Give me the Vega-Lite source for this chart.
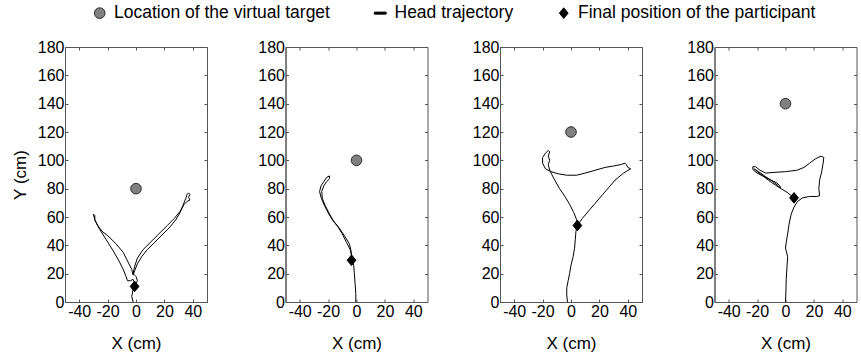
{
  "$schema": "https://vega.github.io/schema/vega-lite/v6.json",
  "background": "white",
  "padding": {"left": 10, "top": 4, "right": 4, "bottom": 5},
  "config": {
    "view": {"stroke": "#555555", "strokeWidth": 1},
    "axis": {"labelFont": "Liberation Sans", "labelFontSize": 16, "labelColor": "#000000", "titleFont": "Liberation Sans", "titleFontSize": 17, "titleFontWeight": "normal", "titleColor": "#000000", "domainColor": "#555555", "tickColor": "#555555", "grid": false, "tickSize": -3, "labelPadding": 4},
    "axisX": {"titlePadding": 16},
    "axisY": {"titlePadding": 8},
    "legend": {"labelFont": "Liberation Sans", "labelFontSize": 17.5, "labelColor": "#000000", "labelOffset": 5.5, "labelLimit": 500, "columnPadding": 41.5, "symbolOpacity": 1, "symbolSize": 140, "symbolStrokeWidth": 1}
  },
  "datasets": {
    "traj": [
      {"panel":1,"i":1,"x":-2,"y":0},{"panel":1,"i":2,"x":-3,"y":4},{"panel":1,"i":3,"x":-2,"y":9},{"panel":1,"i":4,"x":-1,"y":13},{"panel":1,"i":5,"x":-2,"y":16},{"panel":1,"i":6,"x":-4,"y":15},{"panel":1,"i":7,"x":-6,"y":15},{"panel":1,"i":8,"x":-7,"y":18},{"panel":1,"i":9,"x":-9,"y":23},{"panel":1,"i":10,"x":-12,"y":29},{"panel":1,"i":11,"x":-16,"y":36},{"panel":1,"i":12,"x":-21,"y":44},{"panel":1,"i":13,"x":-26,"y":52},{"panel":1,"i":14,"x":-29,"y":58},{"panel":1,"i":15,"x":-30,"y":62},{"panel":1,"i":16,"x":-29,"y":61},{"panel":1,"i":17,"x":-29,"y":58},{"panel":1,"i":18,"x":-27,"y":54},{"panel":1,"i":19,"x":-24,"y":50},{"panel":1,"i":20,"x":-19,"y":46},{"panel":1,"i":21,"x":-14,"y":41},{"panel":1,"i":22,"x":-9,"y":35},{"panel":1,"i":23,"x":-6,"y":29},{"panel":1,"i":24,"x":-3,"y":23},{"panel":1,"i":25,"x":-2,"y":19},{"panel":1,"i":26,"x":-1,"y":22},{"panel":1,"i":27,"x":1,"y":27},{"panel":1,"i":28,"x":4,"y":32},{"panel":1,"i":29,"x":8,"y":37},{"panel":1,"i":30,"x":13,"y":42},{"panel":1,"i":31,"x":19,"y":48},{"panel":1,"i":32,"x":24,"y":53},{"panel":1,"i":33,"x":28,"y":58},{"panel":1,"i":34,"x":31,"y":63},{"panel":1,"i":35,"x":33,"y":68},{"panel":1,"i":36,"x":35,"y":73},{"panel":1,"i":37,"x":36,"y":76},{"panel":1,"i":38,"x":37,"y":77},{"panel":1,"i":39,"x":38,"y":76},{"panel":1,"i":40,"x":37,"y":74},{"panel":1,"i":41,"x":38,"y":72},{"panel":1,"i":42,"x":36,"y":71},{"panel":1,"i":43,"x":34,"y":69},{"panel":1,"i":44,"x":31,"y":64},{"panel":1,"i":45,"x":27,"y":59},{"panel":1,"i":46,"x":22,"y":54},{"panel":1,"i":47,"x":16,"y":48},{"panel":1,"i":48,"x":10,"y":42},{"panel":1,"i":49,"x":5,"y":37},{"panel":1,"i":50,"x":1,"y":31},{"panel":1,"i":51,"x":-1,"y":25},{"panel":1,"i":52,"x":-2,"y":20},{"panel":1,"i":53,"x":0,"y":18},{"panel":1,"i":54,"x":1,"y":15},{"panel":1,"i":55,"x":0,"y":13},{"panel":1,"i":56,"x":-1,"y":11},
      {"panel":2,"i":1,"x":-0.5,"y":0},{"panel":2,"i":2,"x":-0.5,"y":6},{"panel":2,"i":3,"x":-1,"y":13},{"panel":2,"i":4,"x":-1.5,"y":20},{"panel":2,"i":5,"x":-2,"y":26},{"panel":2,"i":6,"x":-3,"y":30},{"panel":2,"i":7,"x":-3.5,"y":33},{"panel":2,"i":8,"x":-4.5,"y":37},{"panel":2,"i":9,"x":-7,"y":42},{"panel":2,"i":10,"x":-10,"y":48},{"panel":2,"i":11,"x":-13,"y":53},{"panel":2,"i":12,"x":-17,"y":58},{"panel":2,"i":13,"x":-20,"y":63},{"panel":2,"i":14,"x":-23,"y":69},{"panel":2,"i":15,"x":-25,"y":74},{"panel":2,"i":16,"x":-26,"y":78},{"panel":2,"i":17,"x":-25,"y":82},{"panel":2,"i":18,"x":-23,"y":85},{"panel":2,"i":19,"x":-21,"y":88},{"panel":2,"i":20,"x":-19,"y":89},{"panel":2,"i":21,"x":-19,"y":87},{"panel":2,"i":22,"x":-21,"y":85},{"panel":2,"i":23,"x":-23,"y":82},{"panel":2,"i":24,"x":-24.5,"y":78},{"panel":2,"i":25,"x":-24,"y":73},{"panel":2,"i":26,"x":-22,"y":68},{"panel":2,"i":27,"x":-19,"y":62},{"panel":2,"i":28,"x":-16,"y":57},{"panel":2,"i":29,"x":-12,"y":52},{"panel":2,"i":30,"x":-8,"y":46},{"panel":2,"i":31,"x":-5,"y":41},{"panel":2,"i":32,"x":-4,"y":37},{"panel":2,"i":33,"x":-3.5,"y":33},{"panel":2,"i":34,"x":-3.5,"y":29.5},
      {"panel":3,"i":1,"x":-2.5,"y":0},{"panel":3,"i":2,"x":-3,"y":5},{"panel":3,"i":3,"x":-3,"y":10},{"panel":3,"i":4,"x":-2,"y":15},{"panel":3,"i":5,"x":-1,"y":20},{"panel":3,"i":6,"x":0,"y":26},{"panel":3,"i":7,"x":1.5,"y":32},{"panel":3,"i":8,"x":2.5,"y":38},{"panel":3,"i":9,"x":3,"y":44},{"panel":3,"i":10,"x":3.5,"y":50},{"panel":3,"i":11,"x":4.5,"y":54},{"panel":3,"i":12,"x":8,"y":59},{"panel":3,"i":13,"x":13,"y":65},{"panel":3,"i":14,"x":19,"y":72},{"panel":3,"i":15,"x":25,"y":79},{"panel":3,"i":16,"x":31,"y":86},{"panel":3,"i":17,"x":37,"y":91},{"panel":3,"i":18,"x":42,"y":94},{"panel":3,"i":19,"x":40,"y":95},{"panel":3,"i":20,"x":39,"y":97},{"panel":3,"i":21,"x":38,"y":98},{"panel":3,"i":22,"x":35,"y":97},{"panel":3,"i":23,"x":30,"y":96},{"panel":3,"i":24,"x":24,"y":95},{"panel":3,"i":25,"x":17,"y":93},{"panel":3,"i":26,"x":10,"y":91},{"panel":3,"i":27,"x":4,"y":89.5},{"panel":3,"i":28,"x":-3,"y":89.5},{"panel":3,"i":29,"x":-9,"y":90.5},{"panel":3,"i":30,"x":-14,"y":92},{"panel":3,"i":31,"x":-18,"y":94},{"panel":3,"i":32,"x":-20,"y":98},{"panel":3,"i":33,"x":-20,"y":102},{"panel":3,"i":34,"x":-18,"y":105},{"panel":3,"i":35,"x":-16,"y":107},{"panel":3,"i":36,"x":-15,"y":106},{"panel":3,"i":37,"x":-16,"y":103},{"panel":3,"i":38,"x":-15,"y":100},{"panel":3,"i":39,"x":-16,"y":97},{"panel":3,"i":40,"x":-15,"y":93},{"panel":3,"i":41,"x":-12,"y":87},{"panel":3,"i":42,"x":-8,"y":80},{"panel":3,"i":43,"x":-4,"y":74},{"panel":3,"i":44,"x":-1,"y":69},{"panel":3,"i":45,"x":2,"y":63},{"panel":3,"i":46,"x":4,"y":58},{"panel":3,"i":47,"x":4.5,"y":54},
      {"panel":4,"i":1,"x":0,"y":0},{"panel":4,"i":2,"x":0.3,"y":8},{"panel":4,"i":3,"x":0.5,"y":16},{"panel":4,"i":4,"x":1,"y":24},{"panel":4,"i":5,"x":1.5,"y":32},{"panel":4,"i":6,"x":0,"y":38},{"panel":4,"i":7,"x":0.5,"y":42},{"panel":4,"i":8,"x":1.5,"y":48},{"panel":4,"i":9,"x":2.5,"y":55},{"panel":4,"i":10,"x":4,"y":62},{"panel":4,"i":11,"x":6,"y":67},{"panel":4,"i":12,"x":8.5,"y":71},{"panel":4,"i":13,"x":12,"y":73.5},{"panel":4,"i":14,"x":17,"y":74.5},{"panel":4,"i":15,"x":22,"y":74.5},{"panel":4,"i":16,"x":24,"y":75},{"panel":4,"i":17,"x":23.5,"y":80},{"panel":4,"i":18,"x":24,"y":86},{"panel":4,"i":19,"x":25.5,"y":92},{"panel":4,"i":20,"x":26.5,"y":98},{"panel":4,"i":21,"x":27,"y":102},{"panel":4,"i":22,"x":25,"y":103},{"panel":4,"i":23,"x":21,"y":101},{"panel":4,"i":24,"x":17,"y":98},{"panel":4,"i":25,"x":13,"y":95},{"panel":4,"i":26,"x":8,"y":93},{"panel":4,"i":27,"x":0,"y":92},{"panel":4,"i":28,"x":-8,"y":91.5},{"panel":4,"i":29,"x":-14,"y":91},{"panel":4,"i":30,"x":-18,"y":93},{"panel":4,"i":31,"x":-21,"y":95.5},{"panel":4,"i":32,"x":-23,"y":95.5},{"panel":4,"i":33,"x":-23,"y":93.5},{"panel":4,"i":34,"x":-20,"y":91},{"panel":4,"i":35,"x":-15,"y":88.5},{"panel":4,"i":36,"x":-10,"y":86},{"panel":4,"i":37,"x":-6,"y":84},{"panel":4,"i":38,"x":-4,"y":82},{"panel":4,"i":39,"x":-3.5,"y":80.5},{"panel":4,"i":40,"x":-5,"y":82},{"panel":4,"i":41,"x":-9,"y":85},{"panel":4,"i":42,"x":-14,"y":88.5},{"panel":4,"i":43,"x":-19,"y":92},{"panel":4,"i":44,"x":-22,"y":94},{"panel":4,"i":45,"x":-21,"y":93},{"panel":4,"i":46,"x":-16,"y":89},{"panel":4,"i":47,"x":-10,"y":84.5},{"panel":4,"i":48,"x":-4,"y":80.5},{"panel":4,"i":49,"x":1,"y":77.5},{"panel":4,"i":50,"x":6,"y":73.5}
    ],
    "pts": [
      {"panel":1,"item":"Location of the virtual target","x":0,"y":80},
      {"panel":1,"item":"Final position of the participant","x":-1,"y":11},
      {"panel":2,"item":"Location of the virtual target","x":0,"y":100},
      {"panel":2,"item":"Final position of the participant","x":-3.5,"y":29.5},
      {"panel":3,"item":"Location of the virtual target","x":0,"y":120},
      {"panel":3,"item":"Final position of the participant","x":4.5,"y":54},
      {"panel":4,"item":"Location of the virtual target","x":0,"y":140},
      {"panel":4,"item":"Final position of the participant","x":6,"y":73.5}
    ]
  },
  "bounds": "flush",
  "spacing": 78.5,
  "hconcat": [
    {
      "width": 142, "height": 255,
      "resolve": {"axis": {"x": "independent", "y": "independent"}},
      "layer": [
        {"data": {"name": "traj"}, "transform": [{"filter": "datum.panel == 1"}],
         "mark": {"type": "line", "color": "#000000", "strokeWidth": 1},
         "encoding": {
           "x": {"field": "x", "type": "quantitative", "scale": {"domain": [-50, 50], "nice": false, "zero": false}, "axis": {"values": [-40, -20, 0, 20, 40], "title": "X (cm)", "labelExpr": "replace(datum.label, '\u2212', '-')"}},
           "y": {"field": "y", "type": "quantitative", "scale": {"domain": [0, 180], "nice": false}, "axis": {"values": [0, 20, 40, 60, 80, 100, 120, 140, 160, 180], "title": "Y (cm)"}},
           "order": {"field": "i", "type": "quantitative"}
         }},
        {"data": {"name": "pts"}, "transform": [{"filter": "datum.panel == 1"}],
         "mark": {"type": "point", "filled": true, "opacity": 1, "size": 140, "strokeWidth": 1},
         "encoding": {
           "x": {"field": "x", "type": "quantitative", "scale": {"domain": [-50, 50], "nice": false, "zero": false}, "axis": {"orient": "top", "values": [-40, -20, 0, 20, 40], "labels": false, "domain": false, "title": null}},
           "y": {"field": "y", "type": "quantitative", "scale": {"domain": [0, 180], "nice": false}, "axis": {"orient": "right", "values": [0, 20, 40, 60, 80, 100, 120, 140, 160, 180], "labels": false, "domain": false, "title": null}},
           "shape": {"field": "item", "type": "nominal", "scale": {"domain": ["Location of the virtual target", "Head trajectory", "Final position of the participant"], "range": ["M-0.9,0A0.9,0.9,0,1,0,0.9,0A0.9,0.9,0,1,0,-0.9,0Z", "M-1,-0.17L1,-0.17L1,0.17L-1,0.17Z", "M-0.74,0L0,-0.9L0.74,0L0,0.9Z"]}, "legend": {"title": null, "orient": "none", "legendX": 26, "legendY": -43, "direction": "horizontal"}},
           "fill": {"field": "item", "type": "nominal", "scale": {"domain": ["Location of the virtual target", "Head trajectory", "Final position of the participant"], "range": ["#808080", "#000000", "#000000"]}, "legend": {"title": null, "orient": "none", "legendX": 26, "legendY": -43, "direction": "horizontal"}},
           "stroke": {"field": "item", "type": "nominal", "scale": {"domain": ["Location of the virtual target", "Head trajectory", "Final position of the participant"], "range": ["#303030", "#000000", "#000000"]}, "legend": {"title": null, "orient": "none", "legendX": 26, "legendY": -43, "direction": "horizontal"}}
         }}
      ]
    },
    {
      "bounds": "flush",
      "spacing": 72.5,
      "hconcat": [
        {
          "width": 142, "height": 255,
          "resolve": {"axis": {"x": "independent", "y": "independent"}},
          "layer": [
            {"data": {"name": "traj"}, "transform": [{"filter": "datum.panel == 2"}],
             "mark": {"type": "line", "color": "#000000", "strokeWidth": 1},
             "encoding": {
               "x": {"field": "x", "type": "quantitative", "scale": {"domain": [-50, 50], "nice": false, "zero": false}, "axis": {"values": [-40, -20, 0, 20, 40], "title": "X (cm)", "labelExpr": "replace(datum.label, '\u2212', '-')"}},
               "y": {"field": "y", "type": "quantitative", "scale": {"domain": [0, 180], "nice": false}, "axis": {"values": [0, 20, 40, 60, 80, 100, 120, 140, 160, 180], "title": null}},
               "order": {"field": "i", "type": "quantitative"}
             }},
            {"data": {"name": "pts"}, "transform": [{"filter": "datum.panel == 2"}],
             "mark": {"type": "point", "filled": true, "opacity": 1, "size": 140, "strokeWidth": 1},
             "encoding": {
               "x": {"field": "x", "type": "quantitative", "scale": {"domain": [-50, 50], "nice": false, "zero": false}, "axis": {"orient": "top", "values": [-40, -20, 0, 20, 40], "labels": false, "domain": false, "title": null}},
               "y": {"field": "y", "type": "quantitative", "scale": {"domain": [0, 180], "nice": false}, "axis": {"orient": "right", "values": [0, 20, 40, 60, 80, 100, 120, 140, 160, 180], "labels": false, "domain": false, "title": null}},
               "shape": {"field": "item", "type": "nominal", "scale": {"domain": ["Location of the virtual target", "Head trajectory", "Final position of the participant"], "range": ["M-0.9,0A0.9,0.9,0,1,0,0.9,0A0.9,0.9,0,1,0,-0.9,0Z", "M-1,-0.17L1,-0.17L1,0.17L-1,0.17Z", "M-0.74,0L0,-0.9L0.74,0L0,0.9Z"]}, "legend": {"title": null, "orient": "none", "legendX": 26, "legendY": -43, "direction": "horizontal"}},
               "fill": {"field": "item", "type": "nominal", "scale": {"domain": ["Location of the virtual target", "Head trajectory", "Final position of the participant"], "range": ["#808080", "#000000", "#000000"]}, "legend": {"title": null, "orient": "none", "legendX": 26, "legendY": -43, "direction": "horizontal"}},
               "stroke": {"field": "item", "type": "nominal", "scale": {"domain": ["Location of the virtual target", "Head trajectory", "Final position of the participant"], "range": ["#303030", "#000000", "#000000"]}, "legend": {"title": null, "orient": "none", "legendX": 26, "legendY": -43, "direction": "horizontal"}}
             }}
          ]
        },
        {
          "width": 142, "height": 255,
          "resolve": {"axis": {"x": "independent", "y": "independent"}},
          "layer": [
            {"data": {"name": "traj"}, "transform": [{"filter": "datum.panel == 3"}],
             "mark": {"type": "line", "color": "#000000", "strokeWidth": 1},
             "encoding": {
               "x": {"field": "x", "type": "quantitative", "scale": {"domain": [-50, 50], "nice": false, "zero": false}, "axis": {"values": [-40, -20, 0, 20, 40], "title": "X (cm)", "labelExpr": "replace(datum.label, '\u2212', '-')"}},
               "y": {"field": "y", "type": "quantitative", "scale": {"domain": [0, 180], "nice": false}, "axis": {"values": [0, 20, 40, 60, 80, 100, 120, 140, 160, 180], "title": null}},
               "order": {"field": "i", "type": "quantitative"}
             }},
            {"data": {"name": "pts"}, "transform": [{"filter": "datum.panel == 3"}],
             "mark": {"type": "point", "filled": true, "opacity": 1, "size": 140, "strokeWidth": 1},
             "encoding": {
               "x": {"field": "x", "type": "quantitative", "scale": {"domain": [-50, 50], "nice": false, "zero": false}, "axis": {"orient": "top", "values": [-40, -20, 0, 20, 40], "labels": false, "domain": false, "title": null}},
               "y": {"field": "y", "type": "quantitative", "scale": {"domain": [0, 180], "nice": false}, "axis": {"orient": "right", "values": [0, 20, 40, 60, 80, 100, 120, 140, 160, 180], "labels": false, "domain": false, "title": null}},
               "shape": {"field": "item", "type": "nominal", "scale": {"domain": ["Location of the virtual target", "Head trajectory", "Final position of the participant"], "range": ["M-0.9,0A0.9,0.9,0,1,0,0.9,0A0.9,0.9,0,1,0,-0.9,0Z", "M-1,-0.17L1,-0.17L1,0.17L-1,0.17Z", "M-0.74,0L0,-0.9L0.74,0L0,0.9Z"]}, "legend": {"title": null, "orient": "none", "legendX": 26, "legendY": -43, "direction": "horizontal"}},
               "fill": {"field": "item", "type": "nominal", "scale": {"domain": ["Location of the virtual target", "Head trajectory", "Final position of the participant"], "range": ["#808080", "#000000", "#000000"]}, "legend": {"title": null, "orient": "none", "legendX": 26, "legendY": -43, "direction": "horizontal"}},
               "stroke": {"field": "item", "type": "nominal", "scale": {"domain": ["Location of the virtual target", "Head trajectory", "Final position of the participant"], "range": ["#303030", "#000000", "#000000"]}, "legend": {"title": null, "orient": "none", "legendX": 26, "legendY": -43, "direction": "horizontal"}}
             }}
          ]
        },
        {
          "width": 142, "height": 255,
          "resolve": {"axis": {"x": "independent", "y": "independent"}},
          "layer": [
            {"data": {"name": "traj"}, "transform": [{"filter": "datum.panel == 4"}],
             "mark": {"type": "line", "color": "#000000", "strokeWidth": 1},
             "encoding": {
               "x": {"field": "x", "type": "quantitative", "scale": {"domain": [-50, 50], "nice": false, "zero": false}, "axis": {"values": [-40, -20, 0, 20, 40], "title": "X (cm)", "labelExpr": "replace(datum.label, '\u2212', '-')"}},
               "y": {"field": "y", "type": "quantitative", "scale": {"domain": [0, 180], "nice": false}, "axis": {"values": [0, 20, 40, 60, 80, 100, 120, 140, 160, 180], "title": null}},
               "order": {"field": "i", "type": "quantitative"}
             }},
            {"data": {"name": "pts"}, "transform": [{"filter": "datum.panel == 4"}],
             "mark": {"type": "point", "filled": true, "opacity": 1, "size": 140, "strokeWidth": 1},
             "encoding": {
               "x": {"field": "x", "type": "quantitative", "scale": {"domain": [-50, 50], "nice": false, "zero": false}, "axis": {"orient": "top", "values": [-40, -20, 0, 20, 40], "labels": false, "domain": false, "title": null}},
               "y": {"field": "y", "type": "quantitative", "scale": {"domain": [0, 180], "nice": false}, "axis": {"orient": "right", "values": [0, 20, 40, 60, 80, 100, 120, 140, 160, 180], "labels": false, "domain": false, "title": null}},
               "shape": {"field": "item", "type": "nominal", "scale": {"domain": ["Location of the virtual target", "Head trajectory", "Final position of the participant"], "range": ["M-0.9,0A0.9,0.9,0,1,0,0.9,0A0.9,0.9,0,1,0,-0.9,0Z", "M-1,-0.17L1,-0.17L1,0.17L-1,0.17Z", "M-0.74,0L0,-0.9L0.74,0L0,0.9Z"]}, "legend": {"title": null, "orient": "none", "legendX": 26, "legendY": -43, "direction": "horizontal"}},
               "fill": {"field": "item", "type": "nominal", "scale": {"domain": ["Location of the virtual target", "Head trajectory", "Final position of the participant"], "range": ["#808080", "#000000", "#000000"]}, "legend": {"title": null, "orient": "none", "legendX": 26, "legendY": -43, "direction": "horizontal"}},
               "stroke": {"field": "item", "type": "nominal", "scale": {"domain": ["Location of the virtual target", "Head trajectory", "Final position of the participant"], "range": ["#303030", "#000000", "#000000"]}, "legend": {"title": null, "orient": "none", "legendX": 26, "legendY": -43, "direction": "horizontal"}}
             }}
          ]
        }
      ]
    }
  ]
}
